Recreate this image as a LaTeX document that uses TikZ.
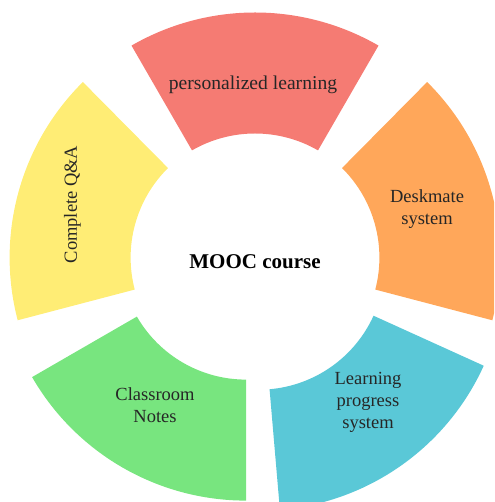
\documentclass[tikz,border=0pt]{standalone}
\usepackage{fontspec}
\setmainfont{Liberation Serif}
\definecolor{slRed}{HTML}{F57B73}
\definecolor{slOrange}{HTML}{FFA75A}
\definecolor{slYellow}{HTML}{FFED75}
\definecolor{slGreen}{HTML}{78E57F}
\definecolor{slCyan}{HTML}{5AC8D7}
\definecolor{labelc}{HTML}{262626}
\newcommand\mkslice[4]{\fill[#4] (#1) ++(#2:126) arc[start angle=#2,end angle=#3,radius=126] -- ++(#3:121) arc[start angle=#3,end angle=#2,radius=247] -- cycle;}
\tikzset{
  lbl/.style={font=\fontsize{18.5}{22}\selectfont, text=labelc, align=center, inner sep=0pt},
  hub/.style={font=\fontsize{21}{25}\selectfont\bfseries, text=black, inner sep=0pt}
}
\begin{document}
\begin{tikzpicture}[x=1pt,y=1pt]
\useasboundingbox (0,0) rectangle (494,502);
\clip (0,0) rectangle (494,502);
\coordinate (apR) at (255,242.5);
\coordinate (apO) at (253.4,244.4);
\coordinate (apY) at (256.6,244.4);
\coordinate (apG) at (246,248.4);
\coordinate (apC) at (258.8,238.3);
\mkslice{apR}{60}{120}{slRed}
\mkslice{apO}{-14.7}{45.3}{slOrange}
\mkslice{apY}{134.7}{194.7}{slYellow}
\mkslice{apG}{210}{270}{slGreen}
\mkslice{apC}{274.9}{335.6}{slCyan}
\node[hub] (hubtext) at (255,240.5) {MOOC course};
\node[lbl, font=\fontsize{19.6}{23}\selectfont] (tR) at (253,417.5) {personalized learning};
\node[lbl] (tO) at (427,292.5) {Deskmate\\system};
\node[lbl, rotate=90] (tY) at (72.5,297.5) {Complete Q\&A};
\node[lbl] (tG) at (155,96.5) {Classroom\\Notes};
\node[lbl] (tC) at (368,100) {Learning\\progress\\system};
\end{tikzpicture}
\end{document}
